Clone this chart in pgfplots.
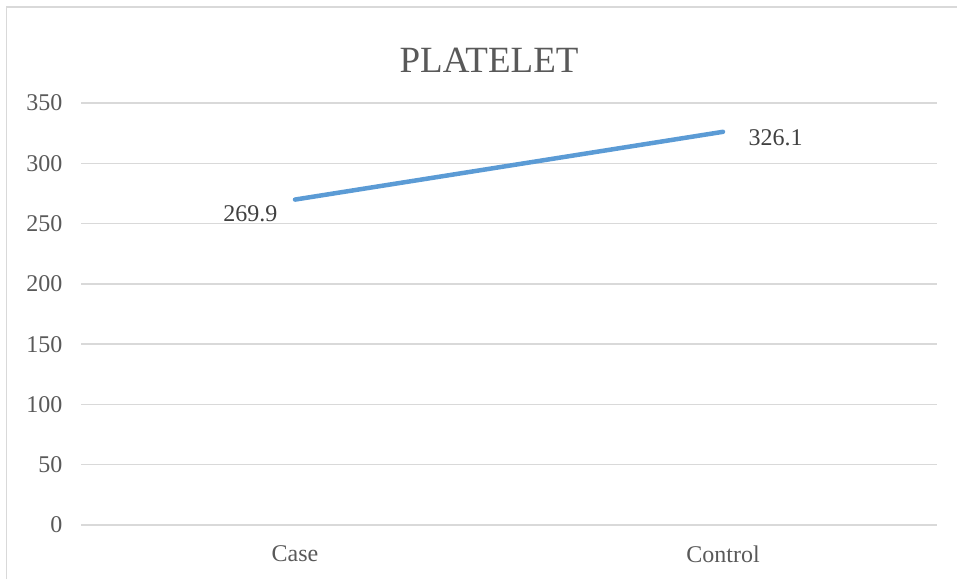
\documentclass[border=0pt]{standalone}
\usepackage{pgfplots}
\pgfplotsset{compat=1.18}
\usepackage{fontspec}
\setmainfont{Liberation Serif}
\definecolor{gridc}{HTML}{D9D9D9}
\definecolor{linec}{HTML}{5B9BD5}
\definecolor{txt}{HTML}{595959}
\definecolor{lbl}{HTML}{404040}
\begin{document}
\begin{tikzpicture}[x=1pt,y=1pt]
\useasboundingbox (0,0) rectangle (957,579);
\draw[gridc, line width=1.5pt] (6.5,0) -- (6.5,572) -- (957,572);
\node[txt, font=\rmfamily\fontsize{37}{40}\selectfont, anchor=base] at (489,506) {PLATELET};
\begin{axis}[
  at={(81pt,54pt)}, anchor=south west,
  scale only axis, width=856pt, height=422pt,
  xmin=-0.5, xmax=1.5, ymin=0, ymax=350,
  axis line style={draw=none},
  ymajorgrids, grid style={gridc, line width=1.5pt},
  ytick={0,50,...,350},
  xtick={0,1}, xticklabels={Case,Control},
  major tick style={draw=none},
  /pgf/number format/assume math mode=true,
  tick label style={txt, font=\rmfamily\fontsize{24}{28}\selectfont},
  yticklabel style={anchor=east, xshift=-15pt},
  xticklabel style={anchor=north, yshift=-17pt},
  clip=false,
]
\addplot[linec, line width=4.5pt, line cap=round] coordinates {(0,269.9) (1,326.1)};
\node[lbl, font=\rmfamily\fontsize{24}{28}\selectfont, anchor=base east] at ([xshift=-14pt,yshift=-22pt]axis cs:0,269.9) {269.9};
\node[lbl, font=\rmfamily\fontsize{24}{28}\selectfont, anchor=base west] at ([xshift=22pt,yshift=-14pt]axis cs:1,326.1) {326.1};
\end{axis}
\end{tikzpicture}
\end{document}
